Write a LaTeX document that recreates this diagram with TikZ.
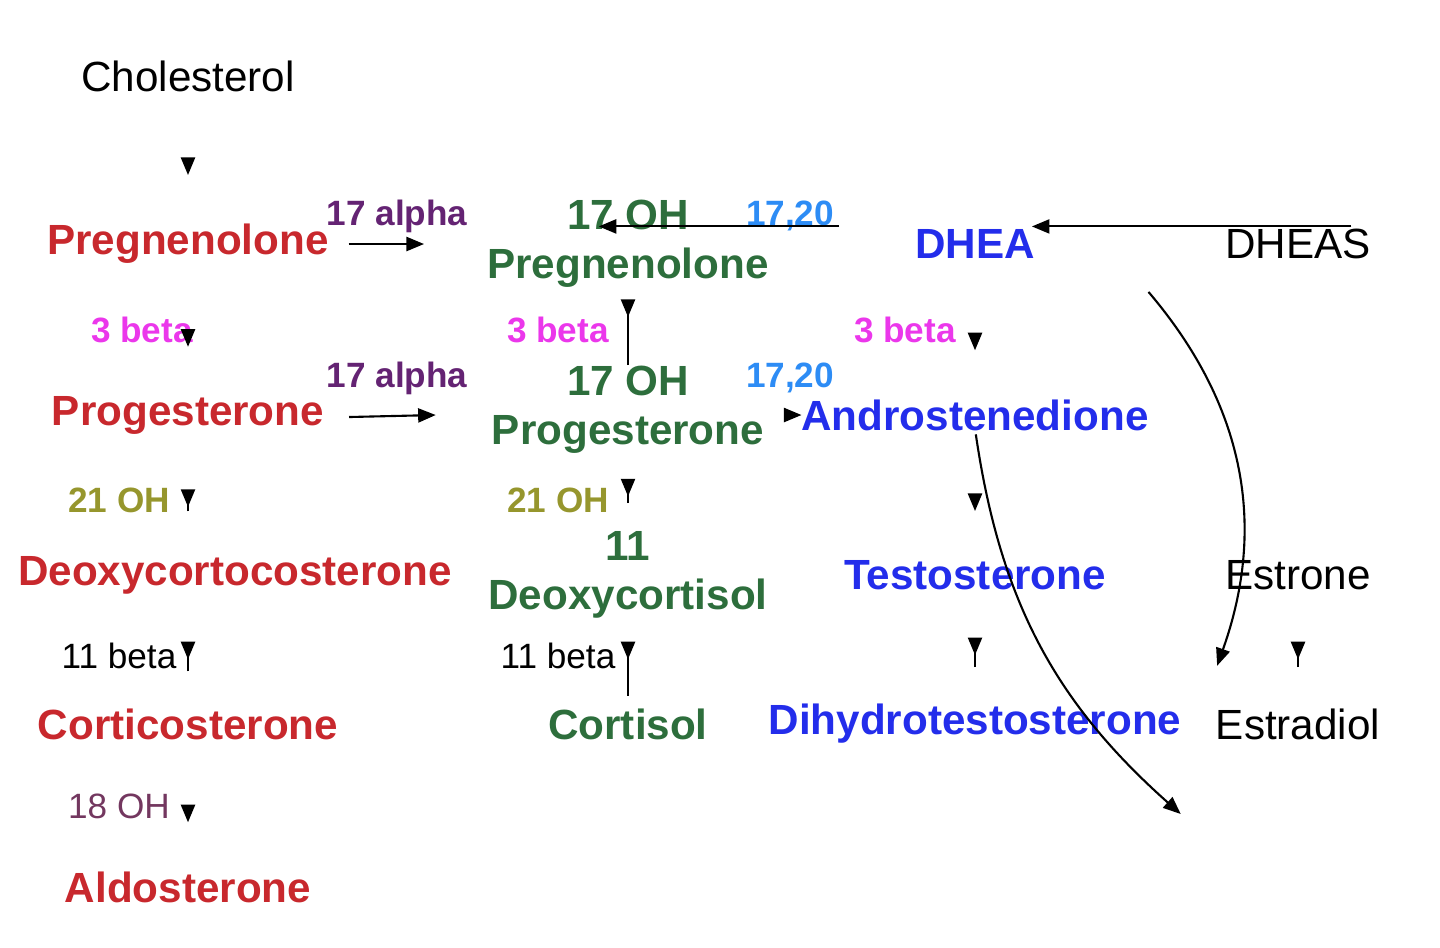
\documentclass[tikz,border=0pt]{standalone}
\usepackage{fontspec}
\setmainfont{Liberation Sans}
\usetikzlibrary{arrows.meta}
\definecolor{hred}{RGB}{200,40,45}
\definecolor{hgreen}{RGB}{45,110,60}
\definecolor{hblue}{RGB}{35,45,235}
\definecolor{lpurple}{RGB}{100,35,115}
\definecolor{lmagenta}{RGB}{235,55,235}
\definecolor{lsky}{RGB}{45,140,245}
\definecolor{lolive}{RGB}{150,150,45}
\definecolor{lplum}{RGB}{115,55,95}
\newcommand{\hormone}[1]{\textbf{#1}}

\begin{document}
\begin{tikzpicture}[x = 0.01cm, y = -0.01cm, every node/.style = {font = \fontsize{12pt}{14pt}\selectfont, align = center, inner sep = 0pt, outer sep = 0pt},
	enz/.style = {font = \fontsize{10pt}{12pt}\selectfont\bfseries},
	pathway/.style = {-{Triangle[length = 5pt, width = 4pt]}, line width = 0.6pt},
	bend angle = 30]
	\useasboundingbox (0,0) rectangle (1440,947);

	% steroid nodes
	\node (CHOL)  at ( 188,  76) {Cholesterol};
	\node (PREG)  at ( 188, 244) [text = hred] {\hormone{Pregnenolone}};
	\node (PROG)  at ( 188, 415) [text = hred] {\hormone{Progesterone}};
	\node (DOC)   at ( 235, 575) [text = hred] {\hormone{Deoxycortocosterone}};
	\node (CORT)  at ( 188, 724) [text = hred] {\hormone{Corticosterone}};
	\node (ALDO)  at ( 188, 887) [text = hred] {\hormone{Aldosterone}};
	\node (OHPREG) at ( 628, 244) [text = hgreen] {\hormone{17 OH}\\\hormone{Pregnenolone}};
	\node (OHPROG) at ( 628, 410) [text = hgreen] {\hormone{17 OH}\\\hormone{Progesterone}};
	\node (DOCL)  at ( 628, 575) [text = hgreen] {\hormone{11}\\\hormone{Deoxycortisol}};
	\node (CSOL)  at ( 628, 724) [text = hgreen] {\hormone{Cortisol}};
	\node (DHEA)  at ( 975, 244) [text = hblue] {\hormone{DHEA}};
	\node (DHEAS) at (1298, 244) {DHEAS};
	\node (ANDRO) at ( 975, 415) [text = hblue] {\hormone{Androstenedione}};
	\node (TESTO) at ( 975, 575) [text = hblue] {\hormone{Testosterone}};
	\node (DHT)   at ( 975, 724) [text = hblue] {\hormone{Dihydrotestosterone}};
	\node (E1)    at (1298, 575) {Estrone};
	\node (E2)    at (1298, 724) {Estradiol};

	% enzyme labels
	\node (A1) at ( 397, 216) [enz, text = lpurple] {17 alpha};
	\node (A2) at ( 397, 378) [enz, text = lpurple] {17 alpha};
	\node (L1) at ( 790, 216) [enz, text = lsky] {17,20};
	\node (L2) at ( 790, 378) [enz, text = lsky] {17,20};
	\node (B1) at ( 142, 330) [enz, text = lmagenta] {3 beta};
	\node (B2) at ( 558, 330) [enz, text = lmagenta] {3 beta};
	\node (B3) at ( 905, 330) [enz, text = lmagenta] {3 beta};
	\node (H1) at ( 119, 500) [enz, text = lolive] {21 OH};
	\node (H2) at ( 558, 500) [enz, text = lolive] {21 OH};
	\node (C1) at ( 119, 656) [enz, font = \fontsize{10pt}{12pt}\selectfont] {11 beta};
	\node (C2) at ( 558, 656) [enz, font = \fontsize{10pt}{12pt}\selectfont] {11 beta};
	\node (D1) at ( 119, 806) [enz, font = \fontsize{10pt}{12pt}\selectfont, text = lplum] {18 OH};

	% vertical steps
	\foreach \from/\to in {CHOL/PREG, PREG/PROG, CORT/ALDO, OHPREG/OHPROG, DOCL/CSOL, DHEA/ANDRO, ANDRO/TESTO, TESTO/DHT, E1/E2}
		\draw [pathway, shorten <= 22, shorten >= 14] (\from.south) -- (\to.north);
	\draw [pathway, shorten <= 22, shorten >= 14] (PROG.south) -- (PROG.south |- DOC.north);
	\draw [pathway, shorten <= 22, shorten >= 14] (DOC.south -| CORT) -- (CORT.north);
	\draw [pathway, shorten <= 14, shorten >= 10] (OHPROG.south) -- (DOCL.north);

	% horizontal steps
	\draw [pathway] (PREG.east) ++(20,0) -- ([xshift = -18] OHPREG.west |- PREG);
	\draw [pathway] (PROG.east) ++(25,2) -- ([xshift = -16] OHPROG.west |- PROG);
	\draw [pathway] ([xshift = 20, yshift = 5] OHPREG.east) -- ([xshift = -90, yshift = 5] DHEA.west);
	\draw [pathway] ([xshift = 90, yshift = 5] DHEA.east) -- ([xshift = -55, yshift = 5] DHEAS.west);
	\draw [pathway] (OHPROG.east |- ANDRO) ++(22,0) -- (ANDRO.west);
	\draw [pathway] ([yshift = 35] ANDRO.east) to [bend left] ([xshift = -23, yshift = -30] E1.north);
	\draw [pathway] ([xshift = -37, yshift = 40] TESTO.east) to [bend right = 20] ([xshift = -10, yshift = -30] E2.north west);
\end{tikzpicture}
\end{document}
